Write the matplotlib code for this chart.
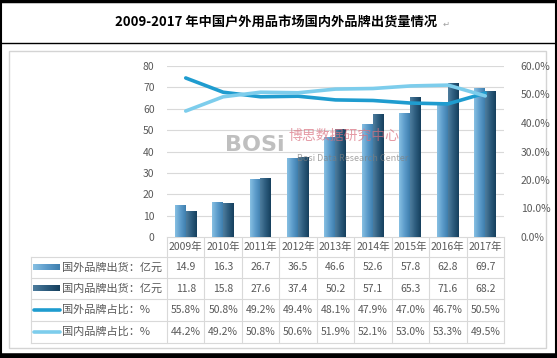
import numpy as np
import matplotlib
matplotlib.use("Agg")
import matplotlib.pyplot as plt
from matplotlib.colors import LinearSegmentedColormap

plt.rcParams["font.family"] = ["Noto Sans CJK SC", "DejaVu Sans"]

# ── data ───────────────────────────────────────────────
years = ["2009年", "2010年", "2011年", "2012年", "2013年", "2014年", "2015年", "2016年", "2017年"]
foreign_ship = [14.9, 16.3, 26.7, 36.5, 46.6, 52.6, 57.8, 62.8, 69.7]
domestic_ship = [11.8, 15.8, 27.6, 37.4, 50.2, 57.1, 65.3, 71.6, 68.2]
foreign_share = [55.8, 50.8, 49.2, 49.4, 48.1, 47.9, 47.0, 46.7, 50.5]
domestic_share = [44.2, 49.2, 50.8, 50.6, 51.9, 52.1, 53.0, 53.3, 49.5]
row_labels = ["国外品牌出货：亿元", "国内品牌出货：亿元", "国外品牌占比：%", "国内品牌占比：%"]
title = "2009-2017 年中国户外用品市场国内外品牌出货量情况"

W, H = 557, 358
TXT = "#595959"
GRID = "#d9d9d9"
C_FOREIGN_LINE = "#1f9ccf"
C_DOMESTIC_LINE = "#7dcdec"
cm_foreign = LinearSegmentedColormap.from_list("f", ["#86bfe2", "#5d9ccb", "#3f7fae"])
cm_domestic = LinearSegmentedColormap.from_list("d", ["#4d7c9d", "#2d5c7e", "#16405d"])

fig = plt.figure(figsize=(W / 100, H / 100), dpi=100)

# plot area in pixels
L, R, T, B = 167, 504, 66, 237
ax = fig.add_axes([L / W, 1 - B / H, (R - L) / W, (B - T) / H])
n = len(years)
x = np.arange(n)
bw = 0.29
grad = np.linspace(0, 1, 32).reshape(1, -1)
for i in range(n):
    ax.imshow(grad, cmap=cm_foreign, aspect="auto", zorder=2,
              extent=[x[i] - bw - 0.005, x[i] - 0.005, 0, foreign_ship[i]])
    ax.imshow(grad, cmap=cm_domestic, aspect="auto", zorder=2,
              extent=[x[i] - 0.005, x[i] + bw - 0.005, 0, domestic_ship[i]])
ax.set_xlim(-0.5, n - 0.5)
ax.set_ylim(0, 80)
ax.set_yticks(range(0, 81, 10))
ax.set_xticks([])
ax.grid(axis="y", color=GRID, linewidth=0.8, zorder=0)
ax.set_axisbelow(True)
for s in ax.spines.values():
    s.set_visible(False)
ax.tick_params(axis="y", length=0, pad=9, labelsize=7.5, labelcolor=TXT)

ax2 = ax.twinx()
ax2.plot(x, np.array(foreign_share) / 100, color=C_FOREIGN_LINE, lw=2.6,
         solid_capstyle="round", solid_joinstyle="round")
ax2.plot(x, np.array(domestic_share) / 100, color=C_DOMESTIC_LINE, lw=2.6,
         solid_capstyle="round", solid_joinstyle="round")
ax2.set_ylim(0, 0.6)
ax2.set_yticks(np.arange(0, 0.61, 0.1))
ax2.set_yticklabels([f"{v:.1f}%" for v in np.arange(0, 61, 10)])
ax2.tick_params(axis="y", length=0, pad=12, labelsize=7.5, labelcolor=TXT)
for s in ax2.spines.values():
    s.set_visible(False)

# watermark
ax2.text(0.26, 0.54, "BOSi", transform=ax.transAxes, fontsize=16, fontweight="bold",
         color="#8c8c8c", alpha=0.55, ha="center", va="center", zorder=5, family="DejaVu Sans")
ax2.text(0.525, 0.59, "博思数据研究中心", transform=ax.transAxes, fontsize=10,
         color="#d9707f", alpha=0.7, ha="center", va="center", zorder=5)
ax2.text(0.55, 0.46, "Bosi Data Research Center", transform=ax.transAxes, fontsize=6.5,
         color="#7f7f7f", alpha=0.7, ha="center", va="center", zorder=5)

# ── overlay: frame, title, data table ──────────────────
ov = fig.add_axes([0, 0, 1, 1], zorder=-1)
ov.set_xlim(0, W)
ov.set_ylim(H, 0)
ov.axis("off")

ov.plot([0, W], [1, 1], color="black", lw=2.5)
ov.plot([1, 1], [0, H], color="black", lw=1.5)
ov.plot([W - 1, W - 1], [0, H], color="black", lw=1.5)
ov.plot([0, W], [356, 356], color="black", lw=4)
ov.plot([0, W], [43, 43], color="black", lw=1)
ov.add_patch(plt.Rectangle((9, 51), 537, 297, fill=False, edgecolor="#d4d4d4", lw=1))
ov.text(W / 2 - 2, 22, title, ha="center", va="center", fontsize=9.5, fontweight="bold", color="black")
ov.text(446, 24, "↵", ha="center", va="center", fontsize=6, color="#a0a0a0")

col_w = (R - L) / n
rows_y = [257, 278, 299, 321, 343]
tl = 31
ov.plot([L, R], [B, B], color=GRID, lw=0.8)
for yy in rows_y:
    ov.plot([tl, R], [yy, yy], color=GRID, lw=0.8)
ov.plot([tl, tl], [rows_y[0], rows_y[-1]], color=GRID, lw=0.8)
for k in range(n + 1):
    ov.plot([L + k * col_w] * 2, [B, rows_y[-1]], color=GRID, lw=0.8)

for i, yr in enumerate(years):
    ov.text(L + (i + 0.5) * col_w, (B + rows_y[0]) / 2, yr, ha="center", va="center",
            fontsize=7.5, color=TXT)

table_vals = [
    [f"{v:.1f}" for v in foreign_ship],
    [f"{v:.1f}" for v in domestic_ship],
    [f"{v:.1f}%" for v in foreign_share],
    [f"{v:.1f}%" for v in domestic_share],
]
for r in range(4):
    yc = (rows_y[r] + rows_y[r + 1]) / 2
    for i in range(n):
        ov.text(L + (i + 0.5) * col_w, yc, table_vals[r][i], ha="center", va="center",
                fontsize=7.5, color=TXT)
    ov.text(62, yc, row_labels[r], ha="left", va="center", fontsize=8, color=TXT)

# legend keys in the label column
for r, cm in enumerate([cm_foreign, cm_domestic]):
    yc = (rows_y[r] + rows_y[r + 1]) / 2
    ov.imshow(grad, cmap=cm, aspect="auto", extent=[33, 60, yc + 3, yc - 3])
for r, c in [(2, C_FOREIGN_LINE), (3, C_DOMESTIC_LINE)]:
    yc = (rows_y[r] + rows_y[r + 1]) / 2
    ov.plot([34, 60], [yc, yc], color=c, lw=2.6, solid_capstyle="round")
ov.set_xlim(0, W)
ov.set_ylim(H, 0)

fig.savefig("out.png", dpi=100)
